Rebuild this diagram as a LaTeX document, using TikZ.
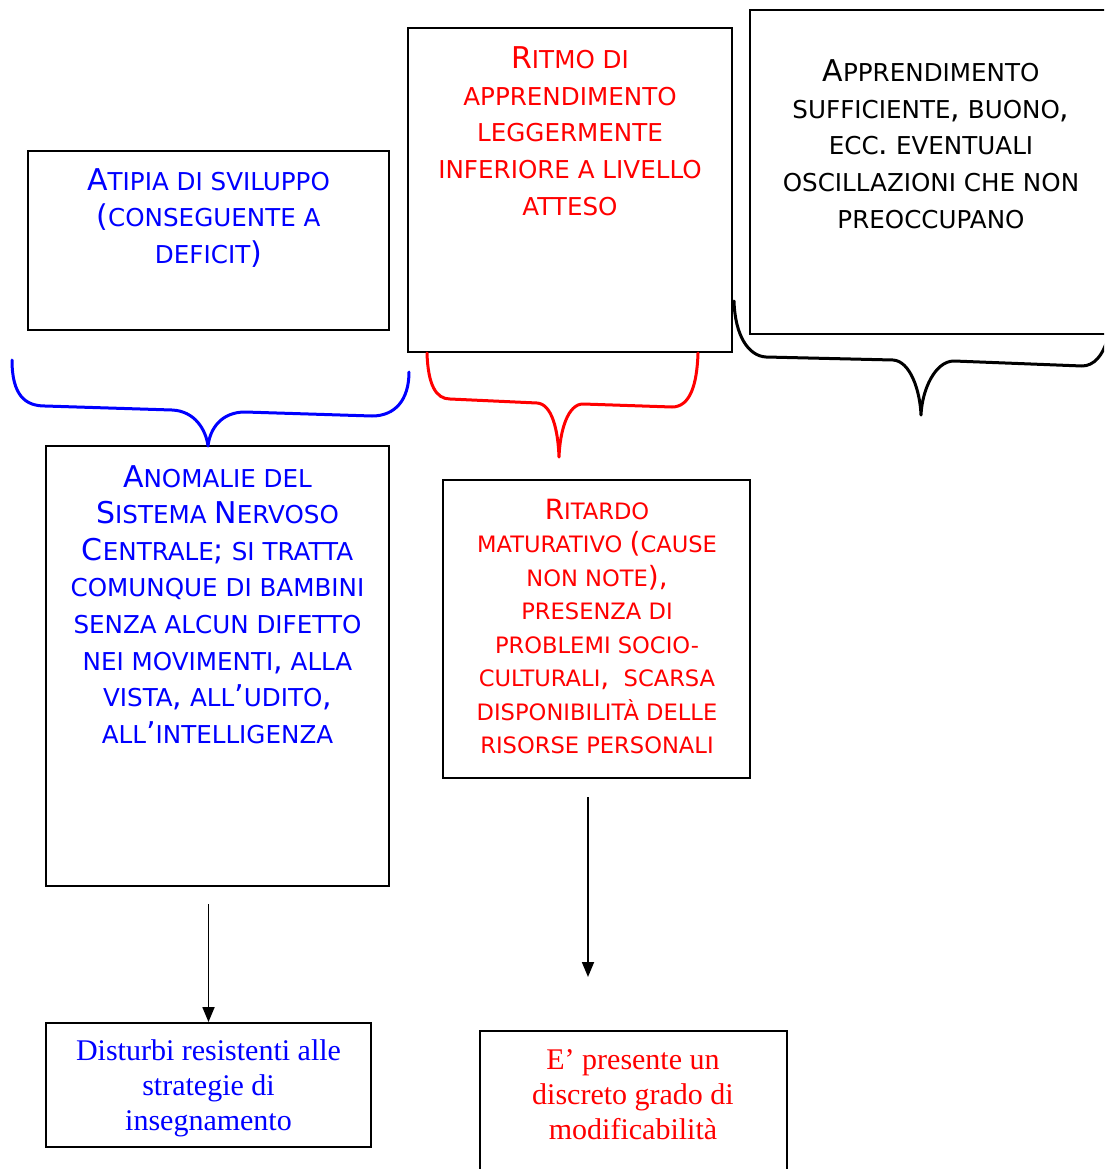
\documentclass[tikz,border=0pt]{standalone}
\usepackage{fontspec}
\setmainfont{Liberation Serif}
\newfontfamily\verd{DejaVu Sans}
\usetikzlibrary{arrows.meta}
\definecolor{pblue}{RGB}{0,0,255}
\definecolor{pred}{RGB}{255,0,0}
\newcommand\BC[1]{{\fontsize{30}{36.6}\selectfont #1}}
\newcommand\BCe[1]{{\fontsize{27.9}{33.5}\selectfont #1}}
\tikzset{
  box/.style={draw=black, line width=1.9pt, inner sep=0pt},
  sc/.style={font=\verd\fontsize{24.6}{36.6}\selectfont, align=center, anchor=north, inner sep=0pt},
  sce/.style={font=\verd\fontsize{22.6}{33.5}\selectfont, align=center, anchor=north, inner sep=0pt},
  tm/.style={font=\fontsize{30}{34.8}\selectfont, align=center, anchor=north, inner sep=0pt},
  brace/.style={line width=3pt, line cap=round, line join=round},
  arr/.style={line width=1.8pt, -{Triangle[length=15pt,width=12pt]}}
}
\begin{document}
\begin{tikzpicture}[x=1pt,y=-1pt]
\useasboundingbox (0,0) rectangle (1104,1169);
\clip (0,0) rectangle (1104,1169);
% boxes
\node[box, minimum width=361pt, minimum height=179pt] (bA) at (208.5,240.5) {};
\node[box, minimum width=324pt, minimum height=324pt] (bB) at (570,190) {};
\node[box, minimum width=364pt, minimum height=324pt] (bC) at (932,172) {};
\node[box, minimum width=343pt, minimum height=440pt] (bD) at (217.5,666) {};
\node[box, minimum width=307pt, minimum height=298pt] (bE) at (596.5,629) {};
\node[box, minimum width=325pt, minimum height=124pt] (bF) at (208.5,1085) {};
\node[box, minimum width=307pt, minimum height=150pt] (bG) at (633.5,1106) {};
% texts
\node[sc, text=pblue] (tA) at (208.5,168.1) {\BC{A}TIPIA DI SVILUPPO\\ \BC{(}CONSEGUENTE A\\ DEFICIT\BC{)}};
\node[sc, text=pred] (tB) at (570,46.6) {\BC{R}ITMO DI\\ APPRENDIMENTO\\ LEGGERMENTE\\ INFERIORE A LIVELLO\\ ATTESO};
\node[sc, text=black] (tC) at (931,59.6) {\BC{A}PPRENDIMENTO\\ SUFFICIENTE\BC{,} BUONO\BC{,}\\ ECC\BC{.} EVENTUALI\\ OSCILLAZIONI CHE NON\\ PREOCCUPANO};
\node[sc, text=pblue] (tD) at (217.5,465.1) {\BC{A}NOMALIE DEL\\ \BC{S}ISTEMA \BC{N}ERVOSO\\ \BC{C}ENTRALE\BC{;} SI TRATTA\\ COMUNQUE DI BAMBINI\\ SENZA ALCUN DIFETTO\\ NEI MOVIMENTI\BC{,} ALLA\\ VISTA\BC{,} ALL\BC{’}UDITO\BC{,}\\ ALL\BC{’}INTELLIGENZA};
\node[sce, text=pred] (tE) at (597,498.7) {\BCe{R}ITARDO\\ MATURATIVO \BCe{(}CAUSE\\ NON NOTE\BCe{),}\\ PRESENZA DI\\ PROBLEMI SOCIO-\\ CULTURALI\BCe{,}\ \ SCARSA\\ DISPONIBILITÀ DELLE\\ RISORSE PERSONALI};
\node[tm, text=pblue] (tF) at (208.5,1039.5) {Disturbi resistenti alle\\ strategie di\\ insegnamento};
\node[tm, text=pred] (tG) at (633,1049.7) {E’ presente un\\ discreto grado di\\ modificabilità};
% brace tips
\coordinate (tipA) at (208,446);
\coordinate (tipB) at (559,457);
\coordinate (tipC) at (921,415);
% braces
\draw[brace, pblue] (12,360) .. controls (12,395) and (25,406) .. (45,406) -- (172,410)
  .. controls (195,411) and (206,430) .. (tipA)
  .. controls (210,428) and (222,412) .. (245,412) -- (372,416)
  .. controls (395,416) and (409,400) .. (409,372);
\draw[brace, pred] (427,353) .. controls (428,385) and (436,399) .. (450,399) -- (537,403)
  .. controls (552,404) and (558,430) .. (tipB)
  .. controls (560,430) and (568,404) .. (583,404) -- (672,407)
  .. controls (690,407) and (697,385) .. (698,353);
\draw[brace, black] (734,301) .. controls (735,335) and (748,356) .. (766,357) -- (893,360)
  .. controls (910,361) and (920,390) .. (tipC)
  .. controls (922,390) and (935,361) .. (954,361) -- (1082,366)
  .. controls (1094,366) and (1103,355) .. (1107,340);
% arrows
\coordinate (a1s) at (208.5,904);
\coordinate (a2s) at (588,797);
\coordinate (a2e) at (588,977);
\draw[arr] (a1s) -- (bF.north);
\draw[arr] (a2s) -- (a2e);
\end{tikzpicture}
\end{document}
